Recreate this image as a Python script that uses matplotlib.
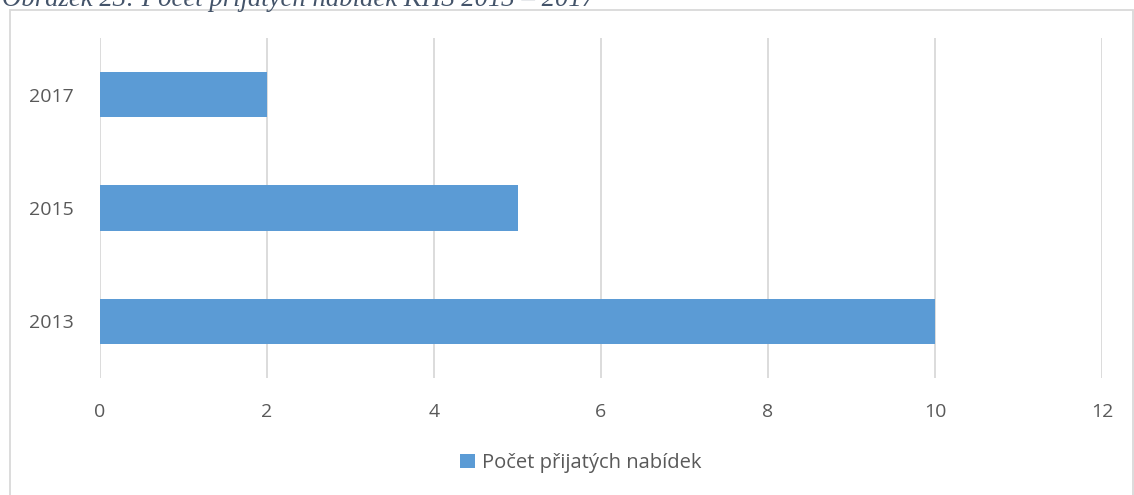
import matplotlib.pyplot as plt
from matplotlib.patches import Rectangle

years = ['2013', '2015', '2017']
values = [10, 5, 2]
series_name = 'Počet přijatých nabídek'
caption = 'Obrázek 23: Počet přijatých nabídek KHS 2013 – 2017'

plt.rcParams['font.family'] = ['Open Sans', 'DejaVu Sans']

W, H = 1134, 495
fig = plt.figure(figsize=(W / 100, H / 100), dpi=100)

# outer chart frame (cut off at the right and bottom)
fig.patches.append(Rectangle((10 / W, -0.05), 1122.5 / W, 1 - 10 / H + 0.05,
                             transform=fig.transFigure, fill=False,
                             edgecolor='#D9D9D9', linewidth=1.3))

# caption above, clipped by the top of the image
fig.text(2 / W, 1 - 6 / H, caption, family='Liberation Serif', style='italic',
         fontsize=19.3, color='#44546A', ha='left', va='baseline')

ax = fig.add_axes([100 / W, 1 - 378 / H, 1002 / W, 340 / H])
ax.barh(range(len(years)), values, height=0.4, color='#5B9BD5', zorder=3,
        label=series_name)
ax.set_xlim(0, 12)
ax.set_ylim(-0.5, 2.5)
ax.set_xticks(range(0, 13, 2))
ax.set_yticks(range(len(years)))
ax.set_yticklabels(years)
ax.tick_params(axis='both', length=0, labelsize=14, labelcolor='#595959')
ax.tick_params(axis='x', pad=18)
ax.tick_params(axis='y', pad=19)
ax.grid(axis='x', color='#D9D9D9', linewidth=1.3, zorder=0)
for s in ax.spines.values():
    s.set_visible(False)

ax.legend(loc='center', bbox_to_anchor=(581 / W, 1 - 463 / H),
          bbox_transform=fig.transFigure, frameon=False, fontsize=14.5,
          labelcolor='#595959', handlelength=0.75, handleheight=0.75,
          handletextpad=0.35)

fig.savefig('out.png', dpi=100)
